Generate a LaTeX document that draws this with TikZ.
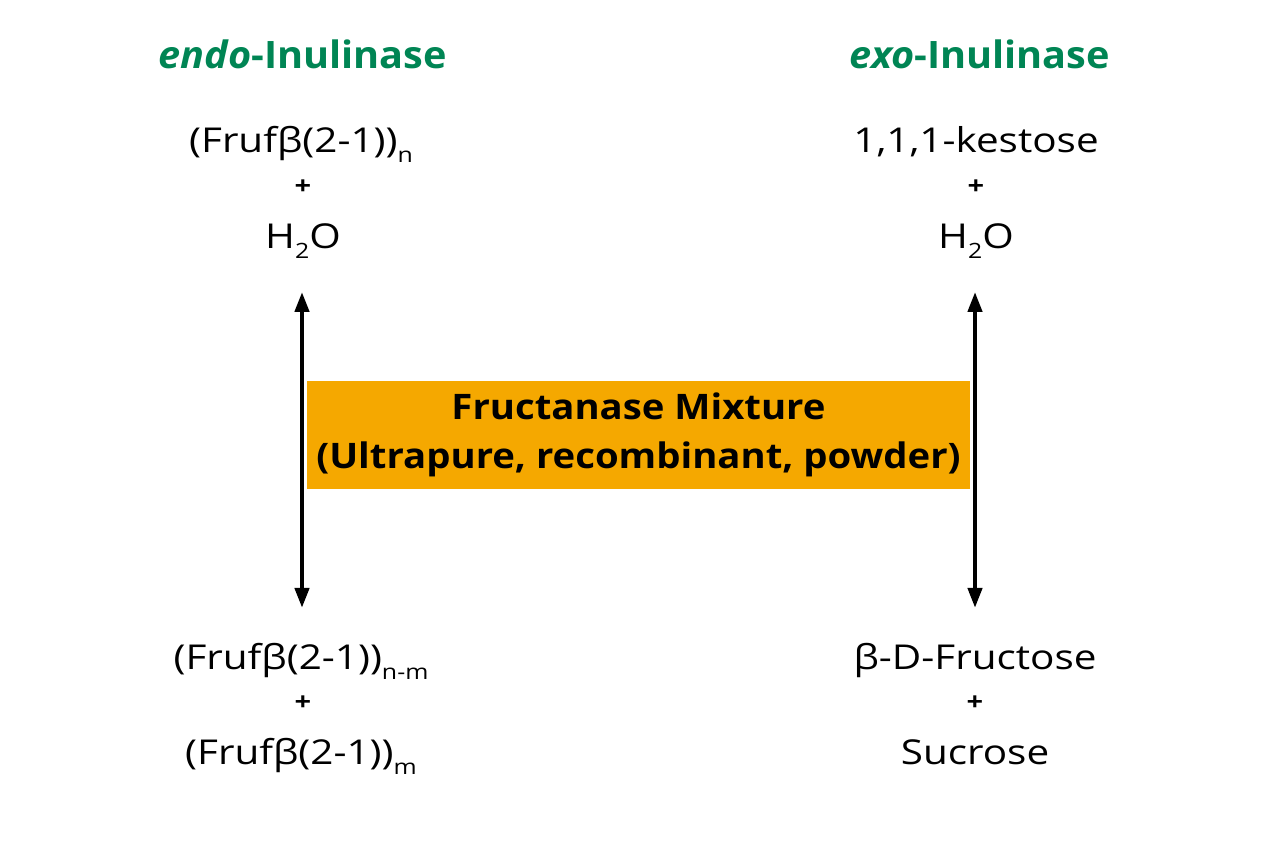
\documentclass[tikz,border=0pt]{standalone}
\usepackage{fontspec}
\setmainfont[FakeStretch=1.18]{Open Sans}
\newfontfamily\headfam[FakeStretch=1.05]{Open Sans}
\newfontfamily\boxfam[FakeStretch=1.09]{Open Sans}
\usetikzlibrary{arrows.meta, positioning}
\definecolor{enzgreen}{RGB}{0,133,84}
\definecolor{mixorange}{RGB}{245,168,0}
\newcommand{\lowsub}[1]{\raisebox{-0.55ex}{\fontsize{12}{14}\selectfont #1}}

\begin{document}
\begin{tikzpicture}[
        >={Triangle[length=0.4cm,width=0.28cm]},
        enzyme/.style={
            text=enzgreen,
            anchor=base,
            font=\headfam\fontsize{21.5}{25}\selectfont\bfseries
        },
        species/.style={
            anchor=base,
            inner sep=2pt,
            font=\fontsize{19.5}{23}\selectfont
        },
        plus/.style={
            inner sep=1pt,
            font=\fontsize{14}{16}\selectfont\bfseries
        },
        mixture/.style={
            fill=mixorange,
            minimum width=13.26cm,
            minimum height=2.16cm,
            align=center,
            font=\boxfam\fontsize{20}{27.9}\selectfont\bfseries
        },
        line_arrow/.style={draw, line width=2.4pt, <->}
    ]
    \useasboundingbox (0,0) rectangle (25.6,-17.06);

    % Headers
    \node[enzyme] (endo) at (6.06,-1.36) {\textit{endo}-Inulinase};
    \node[enzyme] (exo) at (19.6,-1.36) {\textit{exo}-Inulinase};

    % Substrates
    \node[species] (lsub) at (6.02,-3.04) {(Frufβ(2-1))\lowsub{n}};
    \node[plus] (lplus) at (6.06,-3.74) {+};
    \node[species] (lwater) at (6.06,-4.96) {H\lowsub{2}O};

    \node[species] (rsub) at (19.52,-3.04) {1,1,1-kestose};
    \node[plus] (rplus) at (19.52,-3.74) {+};
    \node[species] (rwater) at (19.52,-4.96) {H\lowsub{2}O};

    % Products
    \node[species] (lprod) at (6.02,-13.38) {(Frufβ(2-1))\lowsub{n-m}};
    \node[plus] (lplus2) at (6.06,-14.06) {+};
    \node[species] (lprod2) at (6.02,-15.28) {(Frufβ(2-1))\lowsub{m}};

    \node[species] (rprod) at (19.5,-13.38) {β-D-Fructose};
    \node[plus] (rplus2) at (19.5,-14.06) {+};
    \node[species] (rprod2) at (19.5,-15.28) {Sucrose};

    % Enzyme mixture
    \node[mixture] (mix) at (12.77,-8.7) {Fructanase Mixture\\(Ultrapure, recombinant, powder)};

    \draw[line_arrow, shorten <=0.6cm, shorten >=0.62cm] ([xshift=-0.02cm]lwater.south) -- ([xshift=-0.02cm]lwater.south |- lprod.north);
    \draw[line_arrow, shorten <=0.6cm, shorten >=0.62cm] ([xshift=-0.02cm]rwater.south) -- ([xshift=-0.02cm]rwater.south |- rprod.north);

\end{tikzpicture}
\end{document}
